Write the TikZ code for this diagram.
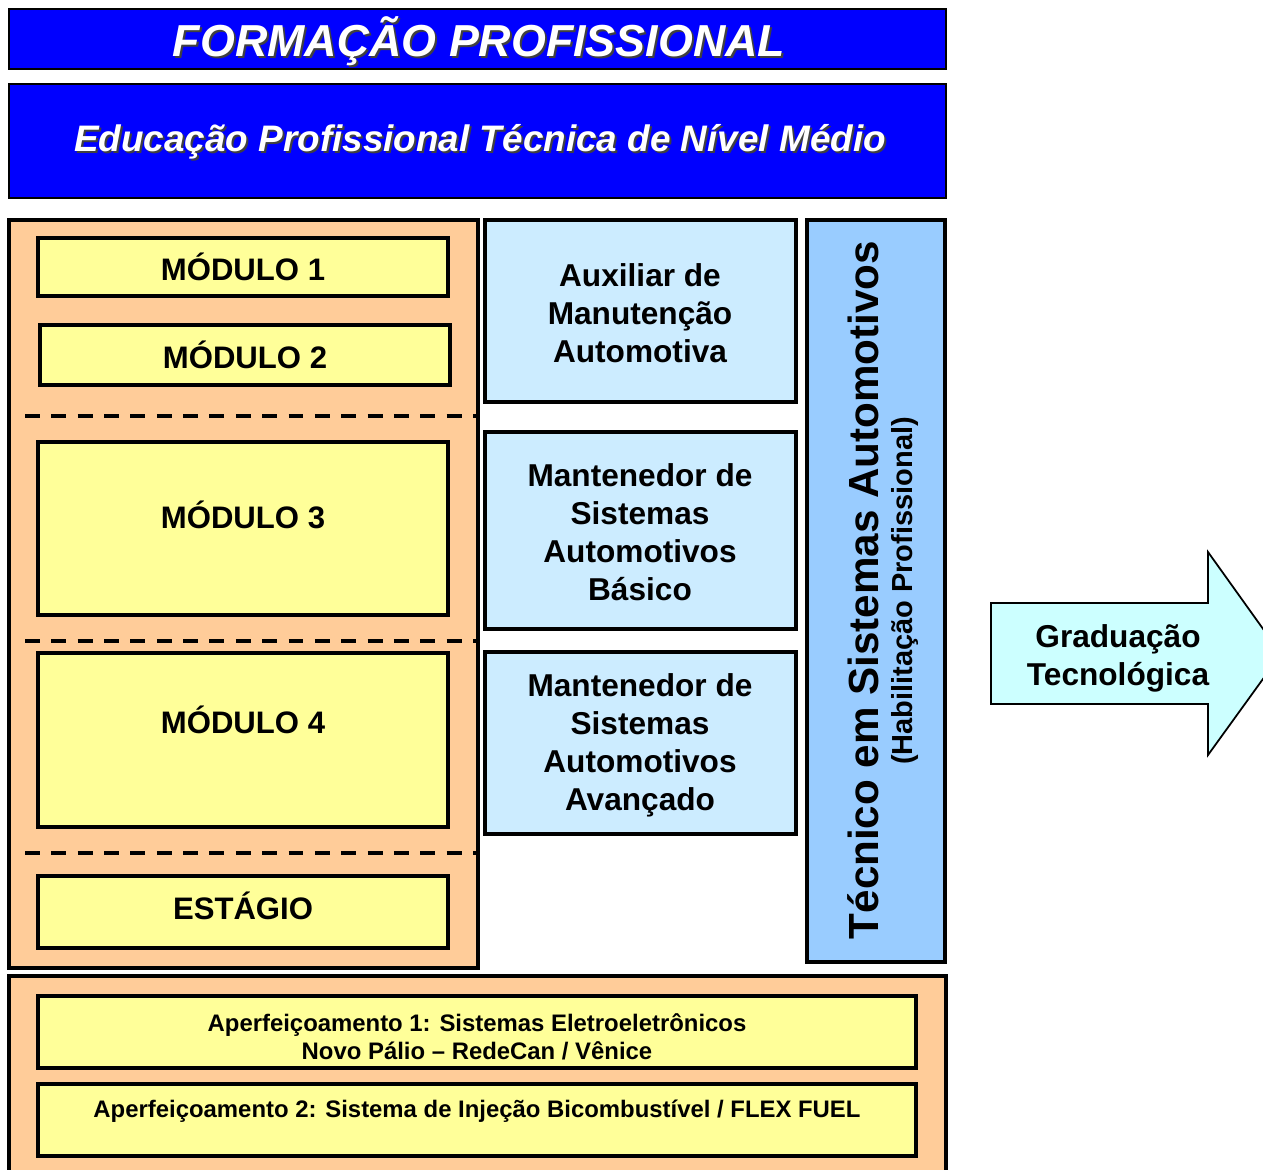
\documentclass[tikz,border=0pt]{standalone}
\usepackage{fontspec}
\setmainfont{Liberation Sans}
\usetikzlibrary{fit}

\definecolor{titleblue}{RGB}{0,0,255}
\definecolor{orangebg}{RGB}{255,204,153}
\definecolor{modyellow}{RGB}{255,255,153}
\definecolor{paleblue}{RGB}{204,236,255}
\definecolor{skyblue}{RGB}{153,204,255}
\definecolor{paleaqua}{RGB}{204,255,255}

\tikzset{
  box/.style={draw=black, line width=2.4pt, inner sep=0pt},
  titlebox/.style={box, fill=titleblue, line width=1.4pt},
  orangebox/.style={box, fill=orangebg},
  modbox/.style={box, fill=modyellow},
  occbox/.style={box, fill=paleblue},
  occtext/.style={align=center, font=\bfseries\fontsize{18}{21.6}\selectfont},
  modtext/.style={font=\bfseries\fontsize{17.7}{21}\selectfont},
  aptext/.style={align=center, font=\bfseries\fontsize{13.6}{15.8}\selectfont},
  titletext/.style={text=white, font=\bfseries\itshape\fontsize{25.5}{30}\selectfont},
  subtext/.style={text=white, font=\bfseries\itshape\fontsize{21}{25}\selectfont},
  dashline/.style={line width=1.8pt, dash pattern=on 8.5pt off 6.5pt}
}

\begin{document}
\begin{tikzpicture}[x=0.02cm, y=-0.02cm]
  \useasboundingbox (0,0) rectangle (1263,1169);
  \clip (0,0) rectangle (1263,1169);

  % header
  \node[titlebox, fit={(9,9) (946,69)}] (title) {};
  \node[titletext, text=black!75] (titlesh) at (481,43) {FORMAÇÃO PROFISSIONAL};
  \node[titletext] (titletx) at (479,41) {FORMAÇÃO PROFISSIONAL};
  \node[titlebox, fit={(9,84) (946,198)}] (sub) {};
  \node[subtext, text=black!75] (subsh) at (482,144) {Educação Profissional Técnica de Nível Médio};
  \node[subtext] (subtx) at (480,142) {Educação Profissional Técnica de Nível Médio};

  % modules
  \node[orangebox, fit={(9,220) (478,968)}] (left) {};
  \node[modbox, fit={(38,238) (448,296)}] (m1) {};
  \node[modtext] (t1) at (m1) {MÓDULO 1};
  \node[modbox, fit={(40,325) (450,385)}] (m2) {};
  \node[modtext] (t2) at (m2) {MÓDULO 2};
  \draw[dashline] (25,416) -- (478,416);
  \node[modbox, fit={(38,442) (448,615)}] (m3) {};
  \node[modtext] (t3) at (243,515) {MÓDULO 3};
  \draw[dashline] (25,641) -- (478,641);
  \node[modbox, fit={(38,653) (448,827)}] (m4) {};
  \node[modtext] (t4) at (243,720) {MÓDULO 4};
  \draw[dashline] (25,853) -- (478,853);
  \node[modbox, fit={(38,876) (448,948)}] (est) {};
  \node[modtext] (t5) at (243,906) {ESTÁGIO};

  % qualifications
  \node[occbox, fit={(485,220) (796,402)}] (aux) {};
  \node[occtext] (auxtx) at (640,313) {Auxiliar de\\Manutenção\\Automotiva};
  \node[occbox, fit={(485,432) (796,629)}] (basico) {};
  \node[occtext] (basicotx) at (640,532) {Mantenedor de\\Sistemas\\Automotivos\\Básico};
  \node[occbox, fit={(485,652) (796,834)}] (avanc) {};
  \node[occtext] (avanctx) at (640,745) {Mantenedor de\\Sistemas\\Automotivos\\Avançado};

  \node[box, fill=skyblue, fit={(807,220) (945,962)}] (tec) {};
  \node[rotate=90, anchor=base, font=\bfseries\fontsize{24}{28}\selectfont] (tectx) at (878,590) {Técnico em Sistemas Automotivos};
  \node[rotate=90, anchor=base, font=\bfseries\fontsize{16.5}{20}\selectfont] (habtx) at (912,591) {(Habilitação Profissional)};

  % next step
  \draw[line width=1pt, fill=paleaqua] (991,603) -- (1208,603) -- (1208,552) -- (1281,654)
    -- (1208,755) -- (1208,704) -- (991,704) -- cycle;
  \node[align=center, font=\bfseries\fontsize{18}{21.5}\selectfont] (grad) at (1118,658) {Graduação\\Tecnológica};

  % further training
  \node[orangebox, fit={(9,976) (946,1190)}] (bottom) {};
  \node[modbox, fit={(38,996) (916,1068)}] (ap1) {};
  \node[aptext] (ap1tx) at (477,1037) {Aperfeiçoamento 1: Sistemas Eletroeletrônicos\\Novo Pálio -- RedeCan / Vênice};
  \node[modbox, fit={(38,1084) (916,1156)}] (ap2) {};
  \node[aptext] (ap2tx) at (477,1111) {Aperfeiçoamento 2: Sistema de Injeção Bicombustível / FLEX FUEL};
\end{tikzpicture}
\end{document}
